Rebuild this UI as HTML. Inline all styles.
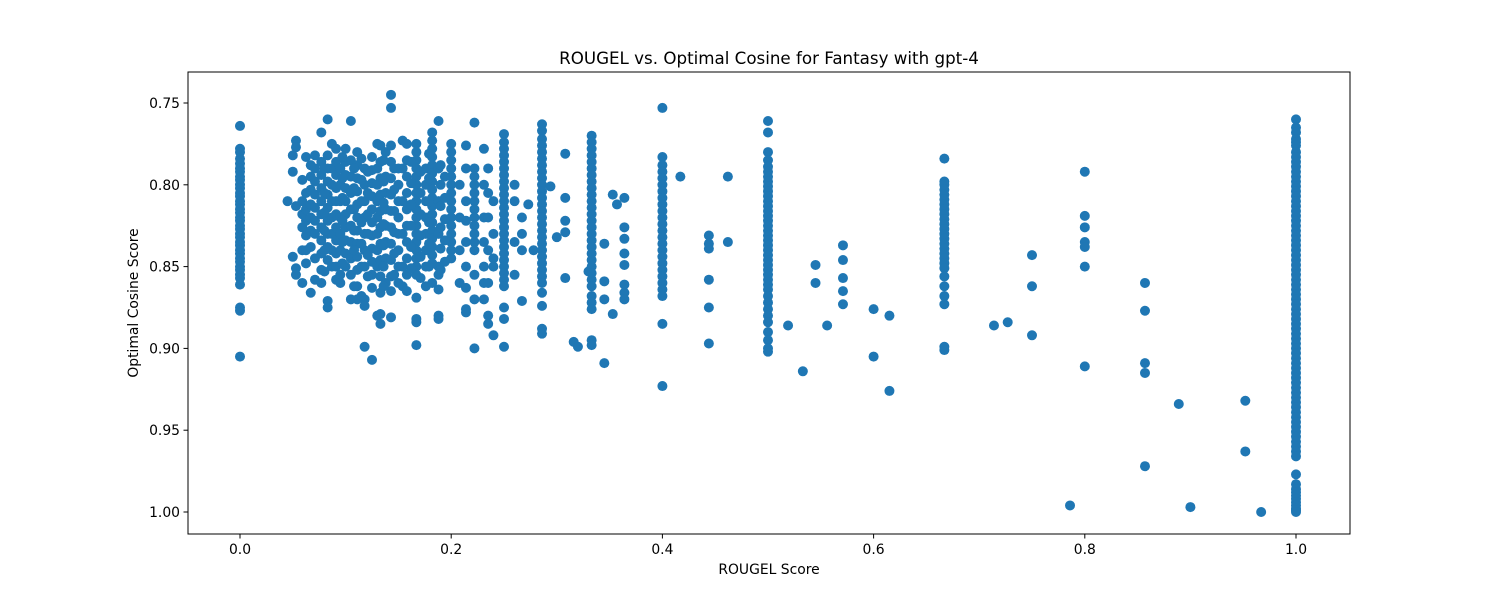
<!DOCTYPE html>
<html><head><meta charset="utf-8"><style>
body{margin:0;background:#fff;}
svg{display:block;font-family:"DejaVu Sans","Liberation Sans",sans-serif;}
</style></head><body>
<svg id="chart" width="1500" height="600">
<rect x="0" y="0" width="1500" height="600" fill="#fff"/>
<text x="769" y="64" text-anchor="middle" font-size="16.7">ROUGEL vs. Optimal Cosine for Fantasy with gpt-4</text>
<g id="marks"></g>
<g id="axes"></g>
<text x="769" y="574" text-anchor="middle" font-size="13.9">ROUGEL Score</text>
<text transform="translate(138,303) rotate(-90)" text-anchor="middle" font-size="13.9">Optimal Cosine Score</text>
</svg>
<script>
const rougeColumns = [0,0.045,0.05,0.053,0.059,0.0625,0.067,0.071,0.077,0.083,0.087,0.091,0.095,0.1,0.105,0.111,0.118,0.125,0.13,0.133,0.138,0.143,0.15,0.154,0.158,0.167,0.176,0.182,0.188,0.2,0.208,0.214,0.222,0.231,0.235,0.24,0.25,0.26,0.267,0.273,0.278,0.286,0.294,0.3,0.308,0.316,0.32,0.33,0.333,0.345,0.353,0.357,0.364,0.4,0.417,0.444,0.462,0.5,0.519,0.533,0.545,0.556,0.571,0.6,0.615,0.667,0.714,0.727,0.75,0.786,0.8,0.857,0.889,0.9,0.952,0.967,1.0,
0.08,0.097,0.108,0.115,0.121,0.136,0.146,0.162,0.171,0.179,0.19,0.194];
const cosineValues = [
[0.764,0.778,0.78,0.784,0.787,0.79,0.792,0.795,0.797,0.8,0.802,0.805,0.807,0.81,0.812,0.815,0.817,0.82,0.822,0.825,0.827,0.83,0.832,0.835,0.837,0.84,0.842,0.845,0.847,0.85,0.852,0.855,0.857,0.861,0.875,0.877,0.905],
[0.81],
[0.782,0.844,0.792],
[0.773,0.777,0.813,0.851,0.855],
[0.797,0.81,0.818,0.826,0.84,0.86],
[0.783,0.805,0.815,0.822,0.831,0.84,0.848],
[0.788,0.795,0.803,0.812,0.82,0.828,0.838,0.866],
[0.782,0.79,0.798,0.806,0.814,0.822,0.83,0.845,0.858],
[0.768,0.786,0.794,0.802,0.81,0.818,0.826,0.834,0.842,0.852,0.86],
[0.76,0.782,0.79,0.798,0.806,0.814,0.822,0.83,0.838,0.846,0.871,0.875],
[0.775,0.79,0.8,0.81,0.82,0.83,0.84,0.85],
[0.778,0.786,0.794,0.802,0.81,0.818,0.826,0.834,0.842,0.85,0.858],
[0.79,0.8,0.81,0.82,0.83,0.84,0.855,0.86],
[0.778,0.786,0.794,0.802,0.81,0.818,0.826,0.834,0.842,0.85],
[0.761,0.785,0.795,0.805,0.815,0.825,0.835,0.845,0.855,0.87],
[0.78,0.788,0.796,0.804,0.812,0.82,0.828,0.836,0.844,0.852,0.862,0.87],
[0.79,0.8,0.81,0.82,0.83,0.84,0.85,0.87,0.874,0.899],
[0.783,0.791,0.799,0.807,0.815,0.823,0.831,0.839,0.847,0.855,0.863,0.907],
[0.775,0.79,0.8,0.81,0.82,0.83,0.84,0.85,0.88],
[0.776,0.786,0.796,0.806,0.816,0.826,0.836,0.846,0.856,0.866,0.879,0.885],
[0.78,0.795,0.805,0.815,0.825,0.835,0.845,0.86],
[0.745,0.753,0.776,0.786,0.796,0.806,0.816,0.826,0.836,0.846,0.856,0.865,0.881],
[0.79,0.8,0.81,0.82,0.83,0.84,0.85,0.86],
[0.773,0.79,0.81,0.83,0.85,0.862],
[0.775,0.785,0.795,0.805,0.815,0.825,0.835,0.845,0.855,0.865],
[0.775,0.78,0.785,0.79,0.795,0.8,0.805,0.81,0.815,0.82,0.825,0.83,0.835,0.84,0.845,0.85,0.855,0.869,0.882,0.884,0.898],
[0.79,0.8,0.81,0.82,0.83,0.84,0.85,0.862],
[0.768,0.773,0.778,0.783,0.788,0.793,0.798,0.803,0.808,0.813,0.818,0.823,0.828,0.833,0.838,0.843,0.848,0.86],
[0.761,0.79,0.81,0.83,0.85,0.855,0.864,0.88,0.882],
[0.775,0.78,0.785,0.79,0.795,0.8,0.805,0.81,0.815,0.82,0.825,0.83,0.835,0.84,0.845],
[0.8,0.82,0.84,0.86],
[0.776,0.79,0.81,0.822,0.835,0.85,0.863,0.876,0.878],
[0.762,0.79,0.795,0.8,0.805,0.81,0.815,0.82,0.825,0.83,0.835,0.84,0.855,0.87,0.9],
[0.778,0.8,0.82,0.835,0.85,0.86,0.87],
[0.79,0.805,0.82,0.84,0.86,0.88,0.885],
[0.81,0.83,0.845,0.85,0.892],
[0.769,0.774,0.778,0.782,0.786,0.79,0.794,0.798,0.802,0.806,0.81,0.814,0.818,0.822,0.826,0.83,0.834,0.838,0.842,0.846,0.85,0.854,0.858,0.862,0.875,0.882,0.899],
[0.8,0.81,0.835,0.855],
[0.82,0.83,0.84,0.871],
[0.812],
[0.84],
[0.763,0.767,0.772,0.776,0.78,0.784,0.788,0.792,0.796,0.8,0.804,0.808,0.812,0.816,0.82,0.824,0.828,0.832,0.836,0.84,0.844,0.848,0.852,0.856,0.86,0.866,0.874,0.888,0.891],
[0.801],
[0.832],
[0.781,0.808,0.822,0.829,0.857],
[0.896],
[0.899],
[0.853],
[0.77,0.774,0.778,0.782,0.786,0.79,0.794,0.798,0.802,0.806,0.81,0.814,0.818,0.822,0.826,0.83,0.834,0.838,0.842,0.846,0.85,0.854,0.858,0.862,0.868,0.872,0.876,0.895,0.898],
[0.836,0.859,0.87,0.909],
[0.806,0.879],
[0.812],
[0.808,0.826,0.833,0.842,0.849,0.861,0.866,0.87],
[0.753,0.783,0.788,0.792,0.796,0.8,0.804,0.808,0.812,0.816,0.82,0.824,0.828,0.832,0.836,0.84,0.844,0.848,0.852,0.856,0.86,0.864,0.868,0.885,0.923],
[0.795],
[0.831,0.836,0.839,0.858,0.875,0.897],
[0.795,0.835],
[0.761,0.768,0.78,0.785,0.789,0.792,0.795,0.798,0.801,0.804,0.807,0.81,0.813,0.816,0.819,0.822,0.825,0.828,0.831,0.834,0.837,0.84,0.843,0.846,0.849,0.852,0.855,0.858,0.861,0.864,0.868,0.872,0.876,0.88,0.884,0.89,0.895,0.9,0.902],
[0.886],
[0.914],
[0.849,0.86],
[0.886],
[0.837,0.846,0.857,0.865,0.873],
[0.876,0.905],
[0.88,0.926],
[0.784,0.798,0.8,0.803,0.806,0.809,0.812,0.815,0.818,0.821,0.824,0.827,0.83,0.833,0.836,0.839,0.842,0.845,0.848,0.851,0.856,0.862,0.868,0.873,0.899,0.901],
[0.886],
[0.884],
[0.843,0.862,0.892],
[0.996],
[0.792,0.819,0.826,0.835,0.838,0.85,0.911],
[0.86,0.877,0.909,0.915,0.972],
[0.934],
[0.997],
[0.932,0.963],
[1.0],
[0.76,0.765,0.768,0.772,0.774,0.776,0.78,0.783,0.786,0.789,0.792,0.795,0.798,0.801,0.804,0.807,0.81,0.813,0.816,0.819,0.822,0.825,0.828,0.831,0.834,0.837,0.84,0.843,0.846,0.849,0.852,0.855,0.858,0.861,0.864,0.867,0.87,0.873,0.876,0.879,0.882,0.885,0.888,0.891,0.894,0.897,0.9,0.903,0.906,0.909,0.912,0.915,0.918,0.921,0.924,0.927,0.93,0.933,0.936,0.939,0.942,0.945,0.948,0.951,0.954,0.957,0.96,0.963,0.966,0.977,0.983,0.986,0.988,0.99,0.992,0.994,0.996,0.998,0.999,1.0],
[0.79,0.805,0.817,0.828,0.84,0.853],
[0.783,0.796,0.808,0.822,0.835,0.848],
[0.79,0.802,0.815,0.828,0.84,0.862],
[0.784,0.797,0.81,0.823,0.836,0.85,0.868],
[0.792,0.805,0.818,0.83,0.843,0.856],
[0.785,0.798,0.811,0.824,0.837,0.85,0.862],
[0.79,0.803,0.816,0.829,0.842,0.855],
[0.786,0.799,0.812,0.825,0.838,0.851],
[0.792,0.805,0.818,0.831,0.844,0.857],
[0.781,0.796,0.81,0.823,0.836,0.85],
[0.788,0.8,0.813,0.826,0.839,0.852],
[0.795,0.808,0.821,0.834,0.847]
];
const xTicks = [0,0.2,0.4,0.6,0.8,1.0];
const xTickLabels = ["0.0","0.2","0.4","0.6","0.8","1.0"];
const yTicks = [0.75,0.8,0.85,0.9,0.95,1.0];
const yTickLabels = ["0.75","0.80","0.85","0.90","0.95","1.00"];

const NS = "http://www.w3.org/2000/svg";
const L = 188, R = 1350, T = 72, B = 534;
function xScale(v){ return 240 + v * 1056; }
function yScale(v){ return 103 + (v - 0.75) * 1636; }
function mk(tag, attrs, parent){ const e = document.createElementNS(NS, tag); for (const k in attrs) e.setAttribute(k, attrs[k]); parent.appendChild(e); return e; }

const marks = document.getElementById('marks');
rougeColumns.forEach((x, i) => {
  cosineValues[i].forEach(y => {
    const c = mk('circle', {cx: xScale(x), cy: yScale(y), r: 5, fill: '#1f77b4'}, marks);
    
    
  });
});

const axes = document.getElementById('axes');
const frame = mk('rect', {x: L, y: T, width: R - L, height: B - T, fill: 'none', stroke: '#000', 'stroke-width': 1}, axes);


xTicks.forEach((v, i) => {
  const x = xScale(v);
  const t = mk('line', {x1: x, x2: x, y1: B, y2: B + 4.5, stroke: '#000'}, axes);
  
  
  const l = mk('text', {x: x, y: B + 20, 'text-anchor': 'middle', 'font-size': 13.9}, axes);
  l.textContent = xTickLabels[i];
  
  
});
yTicks.forEach((v, i) => {
  const y = yScale(v);
  const t = mk('line', {x1: L - 4.5, x2: L, y1: y, y2: y, stroke: '#000'}, axes);
  
  
  const l = mk('text', {x: L - 8, y: y + 5, 'text-anchor': 'end', 'font-size': 13.9}, axes);
  l.textContent = yTickLabels[i];
  
  
});
</script>
</body></html>
